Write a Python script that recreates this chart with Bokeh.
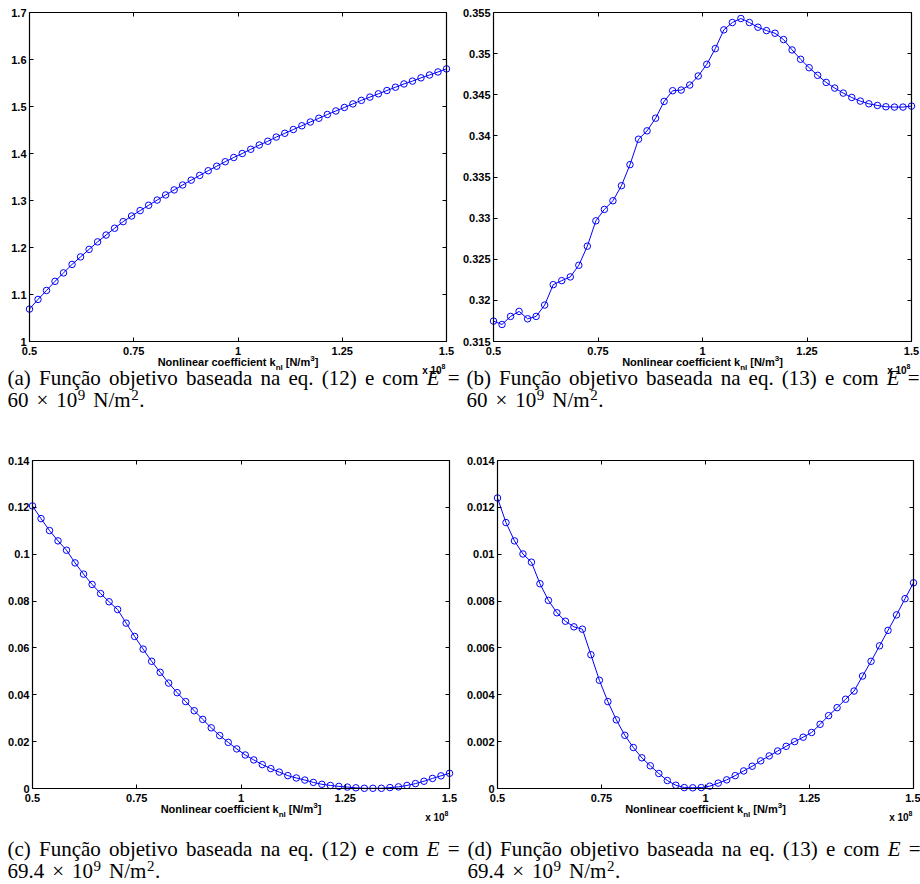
from bokeh.plotting import figure
from bokeh.models import Range1d, LinearAxis, FixedTicker, Label
from bokeh.layouts import column, row
from bokeh.embed import file_html
from bokeh.resources import INLINE

# ---------------- data ----------------
k_nl = [0.5000, 0.5204, 0.5408, 0.5612, 0.5816, 0.6020, 0.6224, 0.6429, 0.6633, 0.6837,
        0.7041, 0.7245, 0.7449, 0.7653, 0.7857, 0.8061, 0.8265, 0.8469, 0.8673, 0.8878,
        0.9082, 0.9286, 0.9490, 0.9694, 0.9898, 1.0102, 1.0306, 1.0510, 1.0714, 1.0918,
        1.1122, 1.1327, 1.1531, 1.1735, 1.1939, 1.2143, 1.2347, 1.2551, 1.2755, 1.2959,
        1.3163, 1.3367, 1.3571, 1.3776, 1.3980, 1.4184, 1.4388, 1.4592, 1.4796, 1.5000]

f_a = [1.069, 1.0895, 1.1086, 1.128, 1.146, 1.164, 1.180, 1.196, 1.212, 1.2265,
       1.241, 1.255, 1.267, 1.2785, 1.2898, 1.3009, 1.3118, 1.3225, 1.333, 1.3433,
       1.3534, 1.3633, 1.373, 1.3825, 1.3915, 1.400, 1.409, 1.418, 1.426, 1.435,
       1.443, 1.451, 1.459, 1.467, 1.475, 1.483, 1.4905, 1.498, 1.5055, 1.513,
       1.520, 1.527, 1.534, 1.541, 1.548, 1.554, 1.561, 1.567, 1.5735, 1.580]

f_b = [0.31748, 0.31707, 0.31805, 0.31866, 0.31776, 0.31805, 0.31943, 0.32191, 0.3224, 0.32285,
       0.32427, 0.32659, 0.32967, 0.33106, 0.33211, 0.33394, 0.3365, 0.33959, 0.34061, 0.34215,
       0.34419, 0.34549, 0.34557, 0.34618, 0.34728, 0.3487, 0.35061, 0.35289, 0.35378, 0.35427,
       0.35378, 0.35321, 0.3528, 0.35248, 0.35171, 0.35045, 0.34931, 0.34829, 0.34736, 0.3465,
       0.34581, 0.3452, 0.34467, 0.34423, 0.3439, 0.3437, 0.34354, 0.3435, 0.3435, 0.34362]

f_c = [0.1206, 0.1152, 0.1101, 0.1057, 0.1017, 0.0963, 0.0915, 0.0871, 0.0832, 0.0797,
       0.0764, 0.0706, 0.0649, 0.0595, 0.0543, 0.0496, 0.0450, 0.0409, 0.0371, 0.0332,
       0.0295, 0.0259, 0.0226, 0.0197, 0.0169, 0.0143, 0.0122, 0.0102, 0.0085, 0.0070,
       0.0055, 0.0045, 0.0036, 0.0026, 0.0018, 0.0013, 0.0009, 0.0006, 0.0003, 0.0001,
       0.0001, 0.0001, 0.0004, 0.0007, 0.0013, 0.0021, 0.0031, 0.0043, 0.0054, 0.0065]

f_d = [0.01240, 0.01135, 0.01057, 0.01001, 0.00966, 0.00874, 0.00803, 0.00750, 0.00714, 0.00690,
       0.00680, 0.00571, 0.00462, 0.00371, 0.00293, 0.00227, 0.00175, 0.00131, 0.00097, 0.00064,
       0.00034, 0.00014, 0.00004, 0.00003, 0.00004, 0.00010, 0.00023, 0.00037, 0.00055, 0.00075,
       0.00095, 0.00118, 0.00139, 0.00160, 0.00180, 0.00200, 0.00219, 0.00239, 0.00274, 0.00311,
       0.00345, 0.00381, 0.00416, 0.00480, 0.00543, 0.00609, 0.00675, 0.00741, 0.00810, 0.00878]

x_ticks = [0.5, 0.75, 1.0, 1.25, 1.5]
x_tick_labels = ["0.5", "0.75", "1", "1.25", "1.5"]

y_ticks_a = [1.0, 1.1, 1.2, 1.3, 1.4, 1.5, 1.6, 1.7]
y_labels_a = ["1", "1.1", "1.2", "1.3", "1.4", "1.5", "1.6", "1.7"]
y_ticks_b = [0.315, 0.32, 0.325, 0.33, 0.335, 0.34, 0.345, 0.35, 0.355]
y_labels_b = ["0.315", "0.32", "0.325", "0.33", "0.335", "0.34", "0.345", "0.35", "0.355"]
y_ticks_c = [0.0, 0.02, 0.04, 0.06, 0.08, 0.1, 0.12, 0.14]
y_labels_c = ["0", "0.02", "0.04", "0.06", "0.08", "0.1", "0.12", "0.14"]
y_ticks_d = [0.0, 0.002, 0.004, 0.006, 0.008, 0.01, 0.012, 0.014]
y_labels_d = ["0", "0.002", "0.004", "0.006", "0.008", "0.01", "0.012", "0.014"]

x_label_main = "Nonlinear coefficient k"
x_label_sub = "nl"
x_label_unit = "[N/m"
x_label_sup = "3"
x_scale_text = "x 10"
x_scale_exp = "8"

cap_letters = ["(a)", "(b)", "(c)", "(d)"]
cap_words = ["Função", "objetivo", "baseada", "na", "eq."]
cap_eqs = ["(12)", "(13)", "(12)", "(13)"]
cap_E_values = ["60", "60", "69.4", "69.4"]

# --------------- text metrics ---------------
SANS_B = {' ': 278, '(': 333, ')': 333, '.': 278, '/': 278, '[': 333, ']': 333,
          'a': 556, 'b': 611, 'c': 556, 'd': 611, 'e': 556, 'f': 333, 'g': 611, 'h': 611,
          'i': 278, 'j': 278, 'k': 556, 'l': 278, 'm': 889, 'n': 611, 'o': 611, 'p': 611,
          'q': 611, 'r': 389, 's': 556, 't': 333, 'u': 611, 'v': 556, 'w': 778, 'x': 556,
          'y': 556, 'z': 500, 'N': 722}
SERIF = {' ': 250, '(': 333, ')': 333, '.': 250, '/': 278, '=': 564, '×': 564,
         'a': 444, 'b': 500, 'c': 444, 'd': 500, 'e': 444, 'f': 333, 'g': 500, 'i': 278,
         'j': 278, 'l': 278, 'm': 778, 'n': 500, 'o': 500, 'q': 500, 's': 389, 't': 278,
         'u': 500, 'v': 500, 'ç': 444, 'ã': 444, 'F': 556, 'N': 722, 'E': 611}

SANS_FONT = "Liberation Sans"
SERIF_FONT = "Liberation Serif"
CAP_SIZE = 21
SUP_SIZE = 15
W, H = 460, 442
BASE_FIX = 0.3   # Label baseline correction, in em


def tw(s, table, size, default):
    return sum(table.get(ch, default) for ch in s) / 1000.0 * size


def add_text(p, text, x, y_top, font, size, style="normal"):
    # x from figure left, y_top = baseline measured downward from figure top
    y_top = y_top - BASE_FIX * size
    p.add_layout(Label(x=x, y=H - y_top, x_units="screen", y_units="screen", text=text,
                       text_font=font, text_font_size=f"{size}px", text_font_style=style,
                       text_align="left", text_baseline="alphabetic", text_color="black"))


def add_runs(p, runs, x, y, font, table, default, align="left"):
    # runs: (text, size, raise, style, gap_before_px)
    total = 0.0
    for t, s, dy, st, gap in runs:
        total += gap + tw(t, table, s, default)
    if align == "center":
        x -= total / 2
    elif align == "right":
        x -= total
    for t, s, dy, st, gap in runs:
        x += gap
        add_text(p, t, x, y - dy, font, s, st)
        x += tw(t, table, s, default)


def make_panel(i, ys, ymin, ymax, y_ticks, y_labels, L, R, T, B, cap_x, cap_w, y1, y2):
    pxx = (R - L) / 1.0
    pxy = (B - T) / (ymax - ymin)
    xr = Range1d(0.5 - L / pxx, 1.5 + (W - R) / pxx)
    yr = Range1d(ymin - (H - B) / pxy, ymax + T / pxy)
    p = figure(width=W, height=H, min_border=0, x_range=xr, y_range=yr, title=None,
               output_backend="svg", toolbar_location=None,
               background_fill_color="white", border_fill_color="white")
    p.grid.visible = False
    p.outline_line_color = None

    p.add_layout(LinearAxis(), "above")
    p.add_layout(LinearAxis(), "right")
    p.below[0].fixed_location = ymin
    p.above[0].fixed_location = ymax
    p.left[0].fixed_location = 0.5
    p.right[0].fixed_location = 1.5

    x_over = dict(zip(x_ticks, x_tick_labels))
    y_over = dict(zip(y_ticks, y_labels))
    for ax in p.xaxis:
        ax.ticker = FixedTicker(ticks=x_ticks)
        ax.major_label_overrides = x_over
        ax.bounds = (0.5, 1.5)
    for ax in p.yaxis:
        ax.ticker = FixedTicker(ticks=y_ticks)
        ax.major_label_overrides = y_over
        ax.bounds = (ymin, ymax)
    for ax in p.axis:
        ax.major_tick_in = 4
        ax.major_tick_out = 0
        ax.minor_tick_in = 0
        ax.minor_tick_out = 0
        ax.axis_line_color = "black"
        ax.axis_line_width = 1.2
        ax.major_tick_line_color = "black"
        ax.major_tick_line_width = 1
        ax.major_label_text_font = SANS_FONT
        ax.major_label_text_font_style = "bold"
        ax.major_label_text_font_size = "11px"
        ax.major_label_text_color = "black"
        ax.axis_label = None
    p.below[0].major_label_standoff = 5
    p.left[0].major_label_standoff = 3
    for ax in (p.above[0], p.right[0]):
        ax.major_label_text_color = None

    p.line(k_nl, ys, line_color="#0000ff", line_width=1)
    p.scatter(k_nl, ys, marker="circle", size=6.5, line_color="#0000ff",
              fill_color=None, line_width=1)

    # x-axis label with subscript / superscript
    runs = [(x_label_main, 11, 0, "bold", 0.0),
            (x_label_sub, 8, -4, "bold", 0.0),
            (x_label_unit, 11, 0, "bold", 3.0),
            (x_label_sup, 8, 5, "bold", 0.0),
            ("]", 11, 0, "bold", 0.0)]
    add_runs(p, runs, (L + R) / 2, B + 24, SANS_FONT, SANS_B, 556, align="center")
    # exponent label
    add_runs(p, [(x_scale_text, 10, 0, "bold", 0.0), (x_scale_exp, 7, 5, "bold", 0.0)],
             R - 1, B + 32, SANS_FONT, SANS_B, 556, align="right")

    # caption line 1, justified across the column
    words = [(cap_letters[i], "normal")] + [(w, "normal") for w in cap_words] + \
            [(cap_eqs[i], "normal"), ("e", "normal"), ("com", "normal"), ("E", "italic"), ("=", "normal")]
    wsum = sum(tw(w, SERIF, CAP_SIZE, 500) for w, _ in words)
    gap = (cap_w - wsum) / (len(words) - 1)
    x = cap_x
    for w, st in words:
        add_text(p, w, x, y1, SERIF_FONT, CAP_SIZE, st)
        x += tw(w, SERIF, CAP_SIZE, 500) + gap
    # caption line 2
    runs = [(cap_E_values[i], CAP_SIZE, 0, "normal", 0.0),
            ("×", CAP_SIZE, 0, "normal", 8.0),
            ("10", CAP_SIZE, 0, "normal", 8.0),
            ("9", SUP_SIZE, 7, "normal", 0.5),
            ("N/m", CAP_SIZE, 0, "normal", 8.0),
            ("2", SUP_SIZE, 7, "normal", 0.5),
            (".", CAP_SIZE, 0, "normal", 0.5)]
    add_runs(p, runs, cap_x, y2, SERIF_FONT, SERIF, 500)
    return p


pa = make_panel(0, f_a, 1.0, 1.7, y_ticks_a, y_labels_a, 29, 446, 12, 341, 7, 452, 384, 406)
pb = make_panel(1, f_b, 0.315, 0.355, y_ticks_b, y_labels_b, 33, 451, 12, 341, 6, 453, 384, 406)
pc = make_panel(2, f_c, 0.0, 0.14, y_ticks_c, y_labels_c, 32, 449, 18, 346, 7, 452, 413, 435)
pd = make_panel(3, f_d, 0.0, 0.014, y_ticks_d, y_labels_d, 37, 453, 18, 346, 7, 453, 413, 435)

layout = column(row(pa, pb, spacing=0), row(pc, pd, spacing=0), spacing=0)

with open("out.html", "w") as fh:
    fh.write(file_html(layout, INLINE))
